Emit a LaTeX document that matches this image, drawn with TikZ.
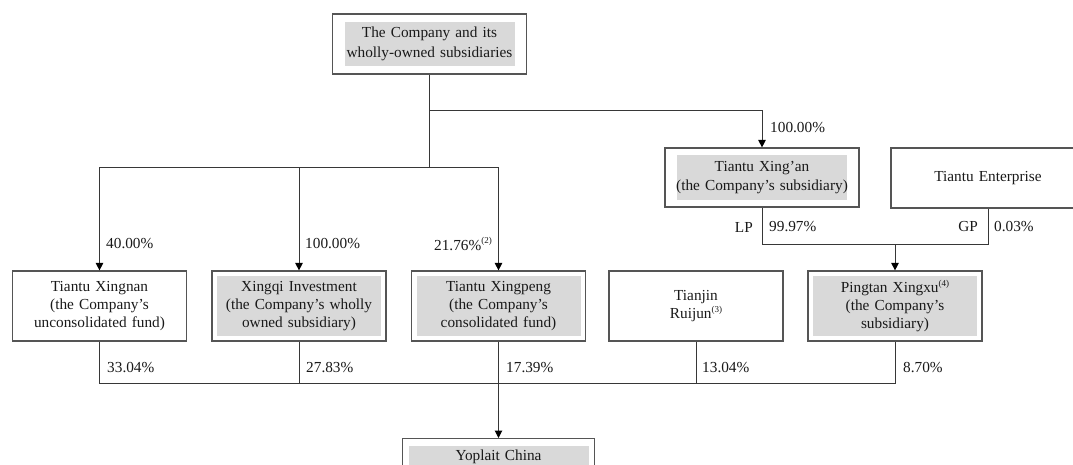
\documentclass[tikz,border=0pt]{standalone}
\usepackage{fontspec}
\setmainfont{Liberation Serif}
\usetikzlibrary{arrows.meta}
\definecolor{fillgray}{RGB}{217,217,217}
\definecolor{bordergray}{RGB}{85,85,85}
\definecolor{linegray}{RGB}{55,55,55}
\definecolor{textgray}{RGB}{25,25,25}
\newcommand\fnote[1]{\raisebox{0.42em}{\fontsize{9}{9}\selectfont(#1)}}
\tikzset{
  box/.style={draw=bordergray, line width=1.2pt, minimum width=174pt, minimum height=70pt,
    inner sep=0pt, align=center, text width=170pt, text=textgray,
    font=\fontsize{15.3}{18}\selectfont},
  inset/.style 2 args={path picture={\fill[fillgray]
    ([xshift=#1pt,yshift=-#2pt]path picture bounding box.north west) rectangle
    ([xshift=-#1pt,yshift=#2pt]path picture bounding box.south east);}},
  conn/.style={draw=linegray, line width=1pt},
  arr/.style={conn, -{Triangle[width=7.5pt,length=7.5pt,color=black]}},
  lab/.style={inner sep=0pt, text=textgray, font=\fontsize{15.3}{18}\selectfont},
}
\begin{document}
\begin{tikzpicture}[x=1pt,y=-1pt]
\useasboundingbox (0,0) rectangle (1073,465);
\clip (0,0) rectangle (1073,465);
% top
\node[box, inset={12}{8}, minimum width=194pt, minimum height=60pt, text width=190pt,
  font=\fontsize{15.3}{20}\selectfont] (top) at (429.5,44)
  {The Company and its\\wholly-owned subsidiaries};
% second level
\node[box, inset={12}{7}, minimum width=194pt, minimum height=59pt, text width=190pt,
  font=\fontsize{15.3}{19}\selectfont] (xingan) at (762,177.5)
  {Tiantu Xing'an\\(the Company's subsidiary)};
\node[box, minimum width=194pt, minimum height=60pt, text width=190pt] (ent) at (988,178)
  {Tiantu Enterprise};
% third level
\node[box] (xingnan) at (99.5,306)
  {Tiantu Xingnan\\(the Company's\\unconsolidated fund)};
\node[box, inset={5}{5}] (xingqi) at (299,306)
  {Xingqi Investment\\(the Company's wholly\\owned subsidiary)};
\node[box, inset={5}{5}] (xingpeng) at (498.5,306)
  {Tiantu Xingpeng\\(the Company's\\consolidated fund)};
\node[box] (tianjin) at (696,306)
  {Tianjin\\Ruijun\fnote{3}};
\node[box, inset={5}{5}] (pingtan) at (895,306)
  {Pingtan Xingxu\fnote{4}\\(the Company's\\subsidiary)};
% bottom
\node[box, inset={6}{7}, anchor=north, minimum width=192pt, minimum height=0pt,
  inner ysep=11pt, text depth=30pt] (yoplait) at (498.5,438)
  {Yoplait China};
% connectors
\coordinate (bus1) at (429.5,168);
\coordinate (t2) at (429.5,111);
\draw[conn] (top.south) -- (bus1);
\draw[arr] (bus1) -| (xingnan.north);
\draw[arr] (bus1) -| (xingpeng.north);
\draw[arr] (xingqi.north |- bus1) -- (xingqi.north);
\draw[arr] (t2) -| (xingan.north);
\coordinate (bus2) at (895,244);
\draw[conn] (xingan.south) |- (ent.south |- bus2) -- (ent.south);
\draw[arr] (bus2) -- (pingtan.north);
\coordinate (bus3) at (498.5,383);
\draw[conn] (xingnan.south) |- (pingtan.south |- bus3) -- (pingtan.south);
\draw[conn] (xingqi.south) -- (xingqi.south |- bus3);
\draw[conn] (tianjin.south) -- (tianjin.south |- bus3);
\draw[arr] (xingpeng.south) -- (yoplait.north);
% labels
\node[lab, anchor=west] (l1) at (770,128) {100.00\%};
\node[lab, anchor=west] (l2) at (106,244) {40.00\%};
\node[lab, anchor=west] (l3) at (305,244) {100.00\%};
\node[lab, anchor=east] (l4) at (492,244) {21.76\%\fnote{2}};
\node[lab, anchor=east] (lp) at (753,227) {LP};
\node[lab, anchor=west] (l5) at (769,227) {99.97\%};
\node[lab, anchor=east] (gp) at (978,227) {GP};
\node[lab, anchor=west] (l6) at (994,227) {0.03\%};
\node[lab, anchor=west] (b1) at (107,368) {33.04\%};
\node[lab, anchor=west] (b2) at (306,368) {27.83\%};
\node[lab, anchor=west] (b3) at (506,368) {17.39\%};
\node[lab, anchor=west] (b4) at (702,368) {13.04\%};
\node[lab, anchor=west] (b5) at (903,368) {8.70\%};
\end{tikzpicture}
\end{document}
